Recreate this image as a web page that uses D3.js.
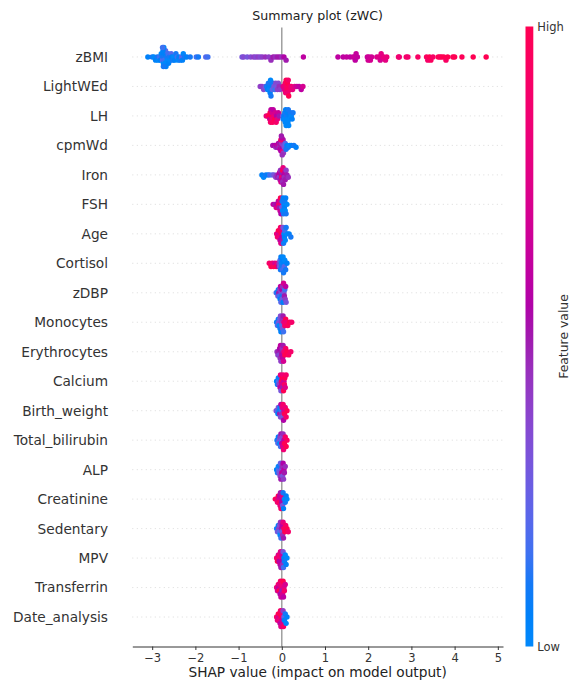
<!DOCTYPE html>
<html>
<head>
<meta charset="utf-8">
<script src="https://cdn.jsdelivr.net/npm/d3@7"></script>
<style>
  body { margin: 0; background: #fff; }
  text { font-family: "DejaVu Sans", sans-serif; }
</style>
</head>
<body>
<div class="summary-chart"></div>
<script>
// Feature names, top to bottom
const features = ["zBMI", "LightWEd", "LH", "cpmWd", "Iron", "FSH", "Age", "Cortisol", "zDBP",
  "Monocytes", "Erythrocytes", "Calcium", "Birth_weight", "Total_bilirubin", "ALP", "Creatinine",
  "Sedentary", "MPV", "Transferrin", "Date_analysis"];

// SHAP values per feature (same order as features)
const shapValues = [
  // zBMI
  [-3.1,-3.0,-2.96,-2.92,-2.88,-2.86,-2.83,-2.81,-2.79,-2.77,
   -2.76,-2.75,-2.74,-2.73,-2.72,-2.71,-2.7,-2.69,-2.68,-2.66,
   -2.65,-2.63,-2.62,-2.6,-2.58,-2.56,-2.55,-2.52,-2.5,-2.48,
   -2.45,-2.42,-2.4,-2.38,-2.35,-2.32,-2.3,-2.28,-2.25,-2.2,
   -2.12,-1.98,-1.93,-1.76,-1.71,-2.75,-2.74,-2.73,-2.76,
   -0.92,-0.88,-0.8,-0.72,-0.65,-0.6,-0.55,-0.5,-0.45,-0.38,
   -0.3,-0.25,-0.2,-0.15,-0.1,-0.05,0.0,0.05,0.1,0.5,
   1.3,1.42,1.5,1.58,1.65,1.68,1.7,1.72,1.75,1.98,
   2.0,2.02,2.05,2.08,2.2,2.25,2.28,2.3,2.33,2.36,
   2.4,2.43,2.7,2.72,2.88,2.92,3.15,3.35,3.38,3.42,
   3.45,3.5,3.62,3.66,3.7,3.75,3.8,3.84,3.96,4.0,
   4.17,4.43,4.73],
  // LightWEd
  [-0.5,-0.46,-0.42,-0.38,-0.35,-0.33,-0.31,-0.3,-0.29,-0.28,
   -0.27,-0.26,-0.25,-0.24,-0.22,-0.2,-0.18,-0.16,-0.14,-0.12,
   -0.1,-0.08,-0.06,-0.04,
   0.03,0.05,0.06,0.08,0.09,0.1,0.11,0.12,0.13,0.14,
   0.15,0.16,0.18,0.2,0.22,0.25,0.3,0.35,0.4,0.45,0.49],
  // LH
  [-0.36,-0.32,-0.3,-0.28,-0.27,-0.26,-0.25,-0.24,-0.23,-0.22,
   -0.21,-0.2,-0.18,-0.16,-0.15,-0.13,-0.12,-0.1,-0.08,-0.06,
   0.02,0.03,0.05,0.06,0.07,0.08,0.09,0.1,0.11,0.12,
   0.13,0.14,0.15,0.16,0.17,0.18,0.2,0.22,0.24,0.26],
  // cpmWd
  [-0.21,-0.17,-0.14,-0.12,-0.1,-0.08,-0.07,-0.06,-0.05,-0.04,
   -0.03,-0.02,-0.01,0.0,0.0,0.01,0.02,0.02,0.03,0.04,
   0.05,0.06,0.08,0.1,0.12,0.15,0.18,0.22,0.28,0.33,
   -0.02,0.0,0.01,-0.01],
  // Iron
  [-0.46,-0.42,-0.37,-0.32,-0.28,-0.22,-0.18,-0.14,-0.11,-0.09,
   -0.07,-0.06,-0.05,-0.04,-0.03,-0.02,-0.01,0.0,0.0,0.01,
   0.02,0.02,0.03,0.04,0.05,0.06,0.07,0.08,0.1,0.12,0.15],
  // FSH
  [-0.2,-0.16,-0.13,-0.11,-0.09,-0.08,-0.07,-0.06,-0.05,-0.04,
   -0.03,-0.02,-0.01,0.0,0.01,0.02,0.03,0.04,0.05,0.06,
   0.07,0.08,0.09,0.1,0.12],
  // Age
  [-0.12,-0.1,-0.08,-0.07,-0.06,-0.05,-0.04,-0.03,-0.02,-0.01,
   0.0,0.01,0.02,0.03,0.04,0.05,0.06,0.07,0.08,0.1,
   0.13,0.17,0.21],
  // Cortisol
  [-0.29,-0.25,-0.22,-0.19,-0.16,-0.13,-0.1,-0.08,-0.06,-0.05,
   -0.04,-0.03,-0.02,-0.01,0.0,0.01,0.02,0.03,0.04,0.05,
   0.06,0.07,0.09,0.12],
  // zDBP
  [-0.13,-0.11,-0.09,-0.08,-0.07,-0.06,-0.05,-0.04,-0.03,-0.02,
   -0.01,0.0,0.0,0.01,0.02,0.03,0.04,0.05,0.06,0.07,
   0.08,0.09,0.1],
  // Monocytes
  [-0.12,-0.1,-0.08,-0.07,-0.06,-0.05,-0.04,-0.03,-0.02,-0.01,
   0.0,0.01,0.02,0.03,0.04,0.05,0.07,0.09,0.11,0.14,
   0.18,0.23],
  // Erythrocytes
  [-0.11,-0.09,-0.07,-0.06,-0.05,-0.04,-0.03,-0.02,-0.01,0.0,
   0.01,0.02,0.03,0.04,0.05,0.07,0.09,0.12,0.16,0.21],
  // Calcium
  [-0.12,-0.1,-0.08,-0.07,-0.06,-0.05,-0.04,-0.03,-0.02,-0.01,
   0.0,0.01,0.02,0.03,0.04,0.05,0.06,0.07,0.08,0.1],
  // Birth_weight
  [-0.13,-0.11,-0.09,-0.08,-0.06,-0.05,-0.04,-0.03,-0.02,-0.01,
   0.0,0.01,0.02,0.03,0.04,0.05,0.06,0.08,0.1,0.12],
  // Total_bilirubin
  [-0.11,-0.09,-0.08,-0.06,-0.05,-0.04,-0.03,-0.02,-0.01,0.0,
   0.01,0.02,0.03,0.04,0.05,0.06,0.08,0.1,0.12],
  // ALP
  [-0.12,-0.1,-0.08,-0.07,-0.06,-0.05,-0.04,-0.03,-0.02,-0.01,
   0.0,0.01,0.02,0.03,0.04,0.05,0.06,0.08],
  // Creatinine
  [-0.15,-0.12,-0.1,-0.08,-0.07,-0.06,-0.05,-0.04,-0.03,-0.02,
   -0.01,0.0,0.01,0.02,0.03,0.04,0.06,0.08,0.1,0.12],
  // Sedentary
  [-0.12,-0.1,-0.08,-0.07,-0.06,-0.05,-0.04,-0.03,-0.02,-0.01,
   0.0,0.01,0.02,0.03,0.04,0.05,0.07,0.09,0.12,0.15],
  // MPV
  [-0.12,-0.1,-0.08,-0.07,-0.06,-0.05,-0.04,-0.03,-0.02,-0.01,
   0.0,0.01,0.02,0.03,0.04,0.05,0.06,0.08,0.1,0.12],
  // Transferrin
  [-0.12,-0.1,-0.08,-0.07,-0.06,-0.05,-0.04,-0.03,-0.02,-0.01,
   0.0,0.01,0.02,0.03,0.04,0.05,0.06,0.08],
  // Date_analysis
  [-0.12,-0.1,-0.08,-0.07,-0.06,-0.05,-0.04,-0.03,-0.02,-0.01,
   0.0,0.01,0.02,0.03,0.04,0.05,0.06,0.08,0.1,0.12]
];

// Normalised feature values (0 = low, 1 = high), parallel to shapValues
const featureValues = [
  // zBMI
  [0.05,0.1,0.0,0.05,0.1,0.0,0.15,0.05,0.0,0.1,
   0.2,0.05,0.0,0.1,0.15,0.05,0.0,0.2,0.05,0.1,
   0.0,0.15,0.05,0.1,0.0,0.2,0.05,0.1,0.0,0.05,
   0.1,0.15,0.0,0.05,0.1,0.2,0.05,0.0,0.1,0.05,
   0.1,0.15,0.1,0.2,0.15,0.05,0.1,0.0,0.15,
   0.3,0.35,0.3,0.35,0.4,0.35,0.4,0.35,0.4,0.45,
   0.4,0.45,0.5,0.45,0.5,0.5,0.45,0.55,0.5,0.6,
   0.6,0.6,0.62,0.6,0.62,0.65,0.6,0.63,0.62,0.65,
   0.68,0.66,0.7,0.68,0.72,0.75,0.7,0.78,0.75,0.8,
   0.78,0.82,0.88,0.85,0.9,0.88,0.92,0.95,0.9,1.0,
   0.95,0.92,1.0,0.95,0.98,1.0,0.93,1.0,0.97,1.0,
   0.98,1.0,1.0],
  // LightWEd
  [0.4,0.4,0.35,0.3,0.1,0.05,0.1,0.05,0.0,0.1,
   0.05,0.0,0.1,0.05,0.2,0.1,0.3,0.15,0.35,0.3,
   0.4,0.35,0.45,0.4,
   0.7,0.8,0.75,0.9,0.85,1.0,0.9,0.95,1.0,0.85,
   0.9,1.0,0.95,0.9,0.85,0.8,0.75,0.65,0.6,0.6,0.7],
  // LH
  [0.8,0.9,1,0.7,1,0.9,0.6,1,0.85,0.7,
   0.95,0.6,0.8,1,0.7,0.9,0.55,0.8,0.65,0.5,
   0.3,0.1,0.05,0,0.1,0,0.05,0,0.1,0,
   0.05,0,0.1,0,0.05,0,0.1,0,0.05,0.1],
  // cpmWd
  [0.5,0.55,0.45,0.6,0.5,0.55,0.7,0.45,0.5,0.6,
   0.5,0.55,0.65,0.5,0.4,0.55,0.45,0.8,0.5,0.4,
   0.35,0.3,0.2,0.1,0.05,0.1,0.0,0.05,0.1,0.05,
   0.9,0.6,0.45,0.5],
  // Iron
  [0.05,0,0.1,0.05,0.15,0.2,0.3,0.4,0.45,0.5,
   0.55,0.4,0.6,0.5,0.45,0.7,0.55,0.9,0.5,0.6,
   1.0,0.45,0.8,0.5,0.55,0.45,0.6,0.5,0.4,0.5,0.45],
  // FSH
  [0.6,0.5,0.7,0.55,0.8,0.6,0.9,0.5,0.75,0.65,
   1.0,0.55,0.8,0.3,0.1,0.0,0.05,0.1,0.0,0.05,
   0.1,0.0,0.05,0.1,0.0],
  // Age
  [0.8,0.9,1,0.7,0.85,1,0.6,0.9,0.75,1,
   0.6,0.8,0.5,0.3,0.1,0.0,0.05,0.15,0.0,0.1,
   0.0,0.05,0.1],
  // Cortisol
  [0.9,1,0.85,0.95,0.7,1,0.8,0.6,0.4,0.3,
   0.2,0.1,0.05,0.0,0.1,0.05,0.15,0.0,0.1,0.05,
   0.2,0.0,0.1,0.05],
  // zDBP
  [0.2,0.1,0.3,0.0,0.5,0.15,0.4,0.05,0.6,0.2,
   0.35,0.1,0.55,0.25,0.45,0.05,0.7,0.3,0.5,0.15,
   0.4,0.6,0.3],
  // Monocytes
  [0.1,0.2,0.05,0.3,0.0,0.25,0.1,0.35,0.05,0.4,
   0.2,0.45,0.3,0.5,0.15,0.8,0.9,1.0,0.85,0.95,
   1.0,0.9],
  // Erythrocytes
  [0.45,0.4,0.5,0.35,0.55,0.45,0.6,0.4,0.5,0.55,
   0.45,0.6,0.5,0.7,0.85,1.0,0.9,1,0.95,0.9],
  // Calcium
  [0.05,0.1,0.0,0.2,0.4,0.1,0.6,0.8,0.3,0.9,
   0.7,1.0,0.5,0.85,1,0.65,0.9,1,0.75,0.9],
  // Birth_weight
  [0.4,0.2,0.05,0.3,0.1,0.5,0.0,0.35,0.6,0.15,
   0.45,0.8,0.3,0.9,0.55,0.7,1.0,0.85,0.9,1],
  // Total_bilirubin
  [0.1,0.2,0.05,0.3,0.0,0.4,0.15,0.5,0.25,0.6,
   0.35,0.7,0.45,0.85,0.6,1,0.9,1,0.95],
  // ALP
  [0.05,0.1,0.0,0.2,0.3,0.1,0.4,0.25,0.5,0.35,
   0.6,0.45,0.3,0.55,0.4,0.6,0.5,0.45],
  // Creatinine
  [1,0.9,0.85,1,0.7,0.95,0.6,0.8,0.5,0.9,
   0.65,0.55,0.75,0.3,0.1,0.05,0.0,0.1,0.05,0.0],
  // Sedentary
  [0.1,0.3,0.05,0.4,0.2,0.35,0.0,0.45,0.15,0.5,
   0.3,0.6,0.45,0.8,0.5,0.95,1,0.9,1,0.9],
  // MPV
  [0.9,1,0.7,0.85,0.55,0.9,0.6,0.75,0.5,0.8,
   0.55,0.65,0.45,0.3,0.15,0.05,0.1,0.0,0.05,0.0],
  // Transferrin
  [0.8,0.7,0.9,0.6,1,0.75,0.55,0.9,0.65,0.8,
   0.5,0.85,0.7,1,0.6,0.75,0.9,0.7],
  // Date_analysis
  [0.9,0.8,1,0.7,0.85,1,0.6,0.9,0.75,1,
   0.65,0.85,0.7,0.4,0.9,0.2,0.05,0.1,0.0,0.05]
];

const xTicks = [-3, -2, -1, 0, 1, 2, 3, 4, 5];
const xDomain = [-3.46, 5.12];

drawSummary(d3.select(".summary-chart"));

function drawSummary(divElement) {
  var width = 572, height = 681;
  var plot = { left: 132.3, right: 503, top: 27.5, bottom: 646.5 };
  var axisColor = "#333333";

  // shap's red_blue map: lch interpolation, dipping in lightness through the middle
  var redBlue = function(t) {
    var h = 266.93 + t * (380.32 - 266.93);
    var c = 70 + 20 * t;
    var l = t < 0.5 ? 54 - 28 * t : 40 + 28 * (t - 0.5);
    return d3.hcl(h, c, l).formatRgb();
  };

  var svg = divElement.append("svg")
    .attr("width", width)
    .attr("height", height)
    .style("display", "block");

  var x = d3.scaleLinear().domain(xDomain).range([plot.left, plot.right]);
  var n = features.length;
  // rows sit at 0..n-1 counting up from the bottom, axis spans -1..n
  var y = d3.scaleLinear().domain([-1, n]).range([plot.bottom, plot.top]);
  var rowPos = function(k) { return y(n - 1 - k); };

  // dotted row guides
  svg.append("g").selectAll("line")
    .data(features)
    .enter().append("line")
    .attr("x1", plot.left).attr("x2", plot.right)
    .attr("y1", (d, k) => rowPos(k)).attr("y2", (d, k) => rowPos(k))
    .attr("stroke", "#cccccc")
    .attr("stroke-width", 0.7)
    .attr("stroke-dasharray", "1,3.5");

  // zero line
  svg.append("line")
    .attr("x1", x(0)).attr("x2", x(0))
    .attr("y1", plot.top).attr("y2", plot.bottom)
    .attr("stroke", "#999999")
    .attr("stroke-width", 1.4);

  // beeswarm offsets, same layering idea as shap (bins, alternate up/down)
  var binPx = 2.5, maxSpread = 9.5;
  function swarm(vals) {
    var px = vals.map(v => x(v));
    var quant = px.map(p => Math.round(p / binPx));
    var order = d3.range(vals.length).sort((a, b) => quant[a] - quant[b] || a - b);
    var ys = new Array(vals.length).fill(0);
    var layer = 0, lastBin = null;
    order.forEach(i => {
      if (quant[i] !== lastBin) layer = 0;
      ys[i] = Math.ceil(layer / 2) * ((layer % 2) * 2 - 1);
      layer += 1;
      lastBin = quant[i];
    });
    var maxY = d3.max(ys, d => Math.abs(d)) || 1;
    var step = Math.min(3.2, maxSpread / maxY);
    return ys.map(d => d * step);
  }

  var dots = svg.append("g");
  features.forEach(function(name, k) {
    var vals = shapValues[k];
    var offs = swarm(vals);
    var pts = vals.map((v, i) => ({ v: v, f: featureValues[k][i], dy: offs[i] }));
    dots.append("g").selectAll("circle")
      .data(pts)
      .enter().append("circle")
      .attr("cx", d => x(d.v))
      .attr("cy", d => rowPos(k) + d.dy)
      .attr("r", 2.7)
      .attr("fill", d => redBlue(d.f));
  });

  // feature labels
  svg.append("g").selectAll("text")
    .data(features)
    .enter().append("text")
    .attr("x", 108)
    .attr("y", (d, k) => rowPos(k))
    .attr("dy", "0.36em")
    .attr("text-anchor", "end")
    .attr("font-size", 13.7)
    .attr("fill", axisColor)
    .text(d => d);

  // x axis
  var xAxis = d3.axisBottom(x)
    .tickValues(xTicks)
    .tickSize(3.5)
    .tickSizeOuter(0)
    .tickPadding(3.5)
    .tickFormat(d => d < 0 ? "\u2212" + Math.abs(d) : String(d));
  var gx = svg.append("g")
    .attr("transform", "translate(0," + plot.bottom + ")")
    .call(xAxis);
  gx.select(".domain").attr("stroke", axisColor).attr("stroke-width", 1);
  gx.selectAll(".tick line").attr("stroke", axisColor).attr("stroke-width", 1);
  gx.selectAll(".tick text")
    .attr("fill", axisColor)
    .attr("font-size", 11.5)
    .attr("font-family", "DejaVu Sans, sans-serif");

  svg.append("text")
    .attr("x", (plot.left + plot.right) / 2)
    .attr("y", 677)
    .attr("text-anchor", "middle")
    .attr("font-size", 13.7)
    .attr("fill", "#222")
    .text("SHAP value (impact on model output)");

  // title
  svg.append("text")
    .attr("x", (plot.left + plot.right) / 2)
    .attr("y", 20)
    .attr("text-anchor", "middle")
    .attr("font-size", 12.6)
    .attr("fill", "#222")
    .text("Summary plot (zWC)");

  // colour bar
  var cb = { x: 525.5, w: 7.8, top: 26.5, bottom: 646.5 };
  var grad = svg.append("defs").append("linearGradient")
    .attr("id", "cbGrad")
    .attr("x1", 0).attr("y1", 1).attr("x2", 0).attr("y2", 0);
  grad.selectAll("stop")
    .data(d3.range(0, 1.0001, 0.05))
    .enter().append("stop")
    .attr("offset", d => d)
    .attr("stop-color", d => redBlue(d));
  svg.append("rect")
    .attr("x", cb.x).attr("y", cb.top)
    .attr("width", cb.w).attr("height", cb.bottom - cb.top)
    .attr("fill", "url(#cbGrad)");

  svg.append("text")
    .attr("x", cb.x + cb.w + 4).attr("y", cb.top)
    .attr("dy", "0.35em")
    .attr("font-size", 11.5)
    .attr("fill", axisColor)
    .text("High");
  svg.append("text")
    .attr("x", cb.x + cb.w + 4).attr("y", cb.bottom)
    .attr("dy", "0.35em")
    .attr("font-size", 11.5)
    .attr("fill", axisColor)
    .text("Low");
  svg.append("text")
    .attr("transform", "translate(568," + ((cb.top + cb.bottom) / 2) + ") rotate(-90)")
    .attr("text-anchor", "middle")
    .attr("font-size", 12.4)
    .attr("fill", axisColor)
    .text("Feature value");
}
</script>
</body>
</html>
